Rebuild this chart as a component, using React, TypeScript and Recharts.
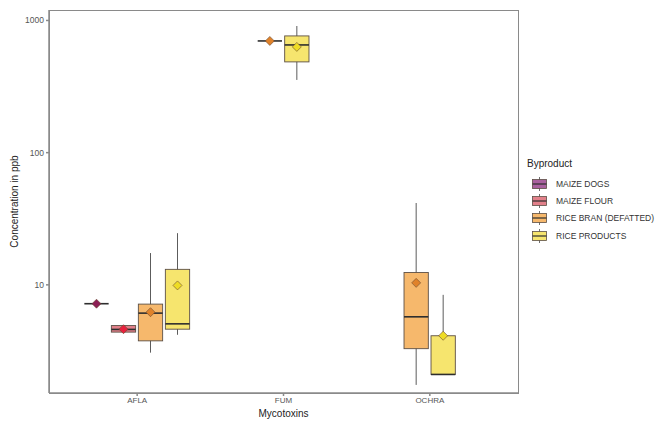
import React from 'react';
import { ComposedChart, Bar, XAxis, YAxis } from 'recharts';

// mycotoxins on the x axis, byproducts as the dodged boxes
const categories = ['AFLA', 'FUM', 'OCHRA'];
const byproducts = ['MAIZE DOGS', 'MAIZE FLOUR', 'RICE BRAN (DEFATTED)', 'RICE PRODUCTS'];
const boxFills = ['#a9619f', '#e2808a', '#f6b86c', '#f6e56e'];
const meanFills = ['#8c1f55', '#e8213e', '#e0822a', '#eedc25'];
const yTicks = [10, 100, 1000];

// [mycotoxin, lower whisker, q1, median, q3, upper whisker, mean]  (ppb)
const maizeDogs = [['AFLA', 7.2, 7.2, 7.2, 7.2, 7.2, 7.2]];
const maizeFlour = [['AFLA', 4.39, 4.39, 4.6, 4.92, 4.92, 4.62]];
const riceBran = [
  ['AFLA', 3.07, 3.77, 6.11, 7.15, 17.4, 6.21],
  ['FUM', 700, 700, 700, 700, 700, 700],
  ['OCHRA', 1.75, 3.29, 5.73, 12.4, 41.6, 10.35],
];
const riceProducts = [
  ['AFLA', 4.19, 4.62, 5.07, 13.1, 24.6, 9.9],
  ['FUM', 355, 486, 653, 764, 908, 631],
  ['OCHRA', 2.1, 2.1, 2.1, 4.12, 8.4, 4.12],
];
const series = [maizeDogs, maizeFlour, riceBran, riceProducts];

// dodge like ggplot (preserve = "single"): boxes present in a group are centred
const rows = categories.map((cat) => {
  const present = series
    .map((s, i) => ({ i, box: s.find((b) => b[0] === cat) as any[] | undefined }))
    .filter((d) => d.box);
  const start = (4 - present.length) / 2;
  const row: any = { cat };
  present.forEach((d, k) => {
    const [, lo, q1, med, q3, hi, mean] = d.box as any[];
    const s = start + k;
    row[`w${s}`] = [lo, hi];
    row[`b${s}`] = [q1, q3];
    row[`m${s}`] = [med, med];
    row[`a${s}`] = [mean, mean];
    row[`g${s}`] = d.i;
  });
  return row;
});

const slots = [0, 1, 2, 3];
const FONT = '"Liberation Sans", Arial, sans-serif';
const LINE = '#4a4a4a';
const FRAME = '#8a8a8a';

const drawLayer = (layer: string, s: number) => (p: any) => {
  const g = p.payload ? p.payload[`g${s}`] : undefined;
  if (g === undefined || !isFinite(p.y)) return <g />;
  const cx = p.x + p.width / 2;
  const bw = p.width * 0.9;
  const top = Math.min(p.y, p.y + p.height);
  const h = Math.abs(p.height);
  if (layer === 'w') {
    return <line x1={cx} x2={cx} y1={top} y2={top + h} stroke={LINE} strokeWidth={0.9} />;
  }
  if (layer === 'b') {
    return (
      <rect x={cx - bw / 2} y={top} width={bw} height={h} fill={boxFills[g]} stroke="#5c4f45" strokeWidth={0.9} />
    );
  }
  if (layer === 'm') {
    return <line x1={cx - bw / 2} x2={cx + bw / 2} y1={top} y2={top} stroke="#2e2e2e" strokeWidth={1.6} />;
  }
  const r = 4.5;
  return (
    <polygon
      points={`${cx},${top - r} ${cx + r},${top} ${cx},${top + r} ${cx - r},${top}`}
      fill={meanFills[g]}
      stroke="#6a4a30"
      strokeWidth={0.6}
    />
  );
};

const LegendKey = ({ i }: { i: number }) => (
  <svg width={17} height={14} style={{ display: 'block' }}>
    <line x1={8.5} x2={8.5} y1={0} y2={14} stroke={LINE} strokeWidth={0.8} />
    <rect x={1.5} y={2.5} width={14} height={9} fill={boxFills[i]} stroke="#5c4f45" strokeWidth={0.8} />
    <line x1={1.5} x2={15.5} y1={7} y2={7} stroke="#2e2e2e" strokeWidth={1.2} />
  </svg>
);

export default function App() {
  return (
    <div style={{ position: 'absolute', left: 0, top: 0, width: 668, height: 423, background: '#fff', fontFamily: FONT }}>
      <ComposedChart
        width={668}
        height={423}
        data={rows}
        margin={{ top: 10, right: 150, bottom: 0, left: 0 }}
        barGap={0}
        barSize={27}
      >
        <XAxis
          xAxisId="w"
          dataKey="cat"
          padding={{ left: 15, right: 15 }}
          height={30}
          tickSize={3}
          tickMargin={1}
          stroke={FRAME}
          strokeWidth={1.5}
          tick={{ fill: '#555', fontSize: 8, fontFamily: FONT }}
          label={{ value: 'Mycotoxins', position: 'insideBottom', offset: 6, fill: '#222', fontSize: 10, fontFamily: FONT }}
        />
        <XAxis xAxisId="b" dataKey="cat" padding={{ left: 15, right: 15 }} height={0} hide />
        <XAxis xAxisId="m" dataKey="cat" padding={{ left: 15, right: 15 }} height={0} hide />
        <XAxis xAxisId="a" dataKey="cat" padding={{ left: 15, right: 15 }} height={0} hide />
        <YAxis
          scale="log"
          domain={[1.52, 1200]}
          ticks={yTicks}
          allowDataOverflow
          width={49}
          tickSize={3}
          tickMargin={2}
          stroke={FRAME}
          strokeWidth={1.5}
          tick={{ fill: '#555', fontSize: 8.5, fontFamily: FONT }}
          label={{
            value: 'Concentration in ppb',
            angle: -90,
            position: 'insideLeft',
            offset: 14,
            style: { textAnchor: 'middle', fill: '#222', fontSize: 10, fontFamily: FONT },
          }}
        />
        {['w', 'b', 'm', 'a'].map((layer) =>
          slots.map((s) => (
            <Bar
              key={`${layer}${s}`}
              xAxisId={layer}
              dataKey={`${layer}${s}`}
              isAnimationActive={false}
              shape={drawLayer(layer, s)}
            />
          ))
        )}
      </ComposedChart>
      {/* panel border */}
      <div
        style={{
          position: 'absolute',
          left: 48.5,
          top: 9.5,
          width: 470,
          height: 384,
          boxSizing: 'border-box',
          border: `1.5px solid ${FRAME}`,
          pointerEvents: 'none',
        }}
      />
      <div style={{ position: 'absolute', left: 527, top: 158 }}>
        <div style={{ fontSize: 10, color: '#222', marginBottom: 6 }}>Byproduct</div>
        {byproducts.map((name, i) => (
          <div key={name} style={{ display: 'flex', alignItems: 'center', height: 17.3 }}>
            <div style={{ marginLeft: 4 }}>
              <LegendKey i={i} />
            </div>
            <span style={{ fontSize: 8.5, color: '#333', marginLeft: 8 }}>{name}</span>
          </div>
        ))}
      </div>
    </div>
  );
}
